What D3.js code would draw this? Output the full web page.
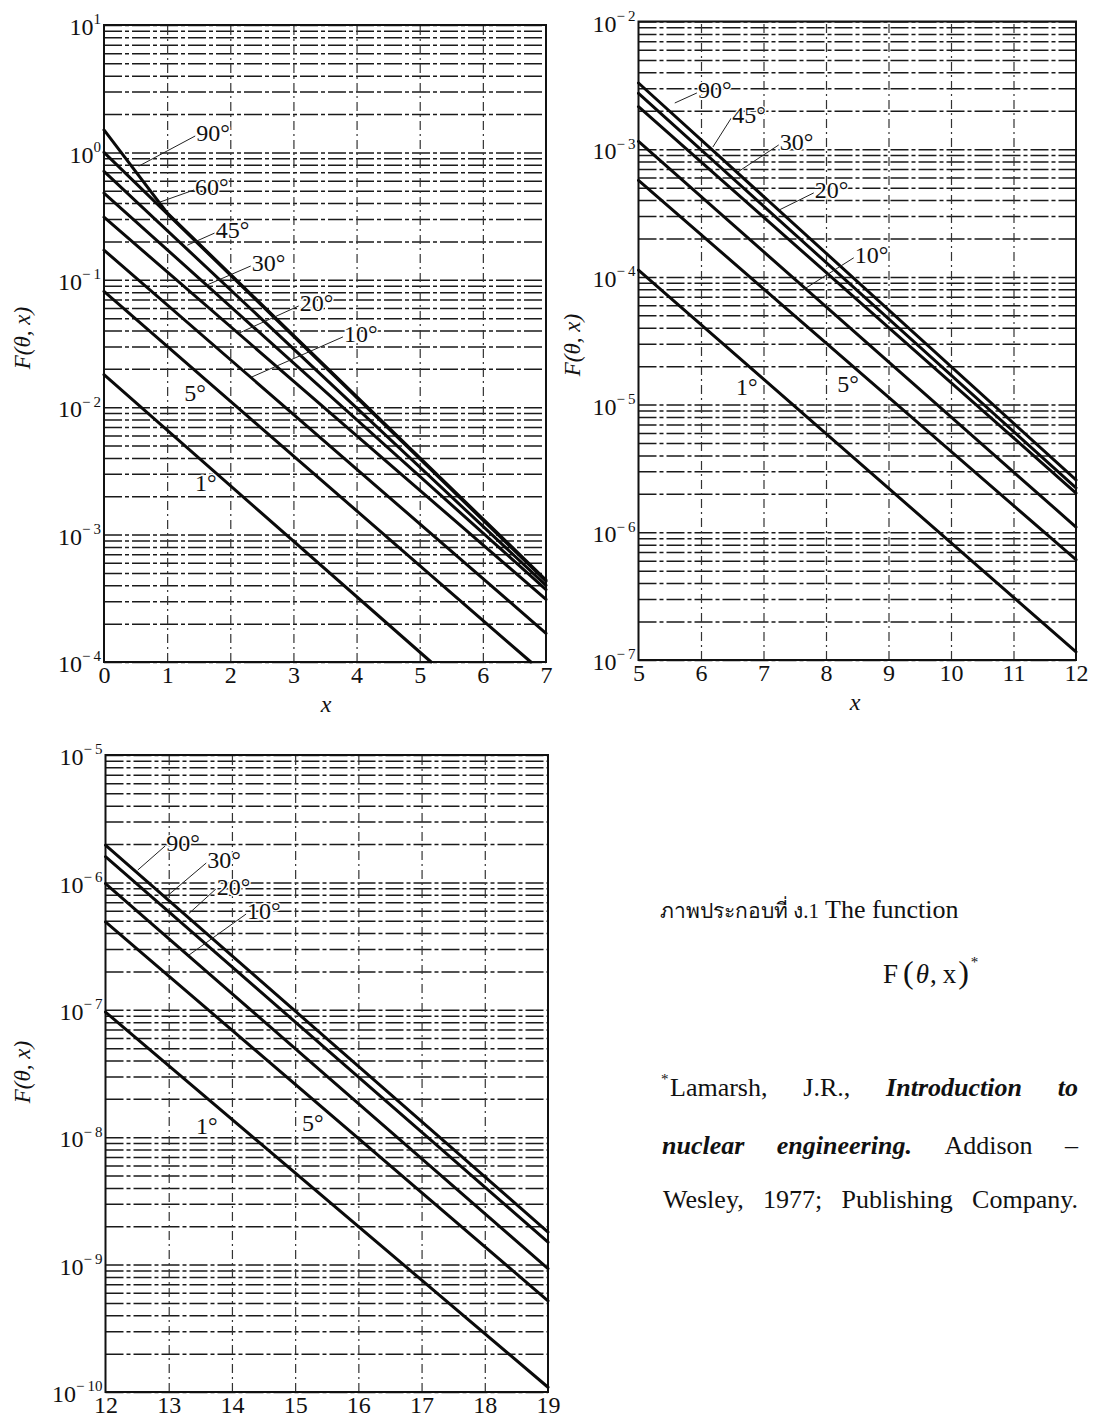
<!DOCTYPE html>
<html>
<head>
<meta charset="utf-8">
<script src="https://cdn.jsdelivr.net/npm/d3@7/dist/d3.min.js"></script>
<style>
    body { margin: 0; background: #fff; }
    svg { display: block; }
    text { font-family: "Liberation Serif", "Times New Roman", serif; fill: #111; }
</style>
</head>
<body>
<div id="figure-wrapper"></div>
<script>

// F(theta, x), three log panels

// panel 1, x = 0..7
var xTicks1 = [0, 1, 2, 3, 4, 5, 6, 7];
var decades1 = [1, 0, -1, -2, -3, -4];
var angles1 = ['90°', '60°', '45°', '30°', '20°', '10°', '5°', '1°'];
var curves1 = [
    [[0, 1.5], [1, 0.335], [7, 4.4e-4]],
    [[0, 1.0], [7, 4.3e-4]],
    [[0, 0.71], [7, 4.0e-4]],
    [[0, 0.48], [7, 3.7e-4]],
    [[0, 0.31], [7, 3.1e-4]],
    [[0, 0.171], [7, 1.68e-4]],
    [[0, 0.081], [6.76, 1e-4]],
    [[0, 0.018], [5.18, 1e-4]]
];
// label, label x, label y, leader end x, leader end y
var notes1 = [
    ['90°', 1.46, 1.42, 0.55, 0.78],
    ['60°', 1.44, 0.535, 0.84, 0.40],
    ['45°', 1.77, 0.246, 1.32, 0.187],
    ['30°', 2.34, 0.1355, 1.63, 0.091],
    ['20°', 3.10, 0.0658, 2.14, 0.0382],
    ['10°', 3.80, 0.0376, 2.34, 0.01726],
    ['5°', 1.27, 0.0131, null, null],
    ['1°', 1.44, 0.00254, null, null]
];

// panel 2, x = 5..12
var xTicks2 = [5, 6, 7, 8, 9, 10, 11, 12];
var decades2 = [-2, -3, -4, -5, -6, -7];
var angles2 = ['90°', '30°', '20°', '10°', '5°', '1°'];
var curves2 = [
    [[5, 3.3e-3], [12, 2.57e-6]],
    [[5, 2.74e-3], [12, 2.23e-6]],
    [[5, 2.15e-3], [12, 2.03e-6]],
    [[5, 1.15e-3], [12, 1.1e-6]],
    [[5, 5.7e-4], [12, 6.1e-7]],
    [[5, 1.13e-4], [12, 1.16e-7]]
];
var notes2 = [
    ['90°', 5.95, 2.91e-3, 5.58, 2.30e-3],
    ['45°', 6.50, 1.85e-3, 6.19, 1.04e-3],
    ['30°', 7.26, 1.14e-3, 6.59, 6.64e-4],
    ['20°', 7.82, 4.8e-4, 7.25, 3.34e-4],
    ['10°', 8.46, 1.49e-4, 7.63, 7.9e-5],
    ['5°', 8.18, 1.45e-5, null, null],
    ['1°', 6.56, 1.38e-5, null, null]
];

// panel 3, x = 12..19
var xTicks3 = [12, 13, 14, 15, 16, 17, 18, 19];
var decades3 = [-5, -6, -7, -8, -9, -10];
var angles3 = ['90°', '20°', '10°', '5°', '1°'];
var curves3 = [
    [[12, 1.96e-6], [19, 1.8e-9]],
    [[12, 1.59e-6], [19, 1.5e-9]],
    [[12, 9.8e-7], [19, 9.3e-10]],
    [[12, 4.9e-7], [19, 5.2e-10]],
    [[12, 9.6e-8], [19, 1.09e-10]]
];
var notes3 = [
    ['90°', 12.96, 2.04e-6, 12.51, 1.25e-6],
    ['30°', 13.61, 1.50e-6, 12.96, 7.7e-7],
    ['20°', 13.76, 9.35e-7, 13.32, 5.7e-7],
    ['10°', 14.24, 5.96e-7, 13.32, 2.69e-7],
    ['1°', 13.43, 1.24e-8, null, null],
    ['5°', 15.11, 1.31e-8, null, null]
];

// caption and reference text
var captionThai = 'ภาพประกอบที่ ง.1';
var captionEn = 'The function';
var refLines = [
    [['Lamarsh,'], ['J.R.,'], ['Introduction', 'bi'], ['to', 'bi']],
    [['nuclear', 'bi'], ['engineering.', 'bi'], ['Addison'], ['\u2013']],
    [['Wesley,'], ['1977;'], ['Publishing'], ['Company.']]
];

var figure = {
    svg: d3.select('#figure-wrapper').append('svg'),
    width: 1097,
    height: 1419,
    fontSize: 24,
    panels: [
        {left: 104, right: 546, top: 25, bottom: 662, titleX: 22, titleY: 338, xLabel: [326, 712]},
        {left: 638.5, right: 1076, top: 21.5, bottom: 660, titleX: 572, titleY: 345, xLabel: [855, 710]},
        {left: 105.5, right: 548, top: 755, bottom: 1392, titleX: 22, titleY: 1072, xLabel: null}
    ],

    init: function(){
        this.svg.attr('width', this.width).attr('height', this.height);
        this.svg.append('rect')
            .attr('width', this.width)
            .attr('height', this.height)
            .attr('fill', '#fff');

        this.drawPanel(this.panels[0], xTicks1, decades1, curves1, notes1);
        this.drawPanel(this.panels[1], xTicks2, decades2, curves2, notes2);
        this.drawPanel(this.panels[2], xTicks3, decades3, curves3, notes3);
        this.drawCaption();
    },

    drawPanel: function(p, xTicks, decades, curves, notes){
        var fs = this.fontSize;
        var x = d3.scaleLinear()
            .domain(d3.extent(xTicks))
            .range([p.left, p.right]);
        var y = d3.scaleLog()
            .domain([Math.pow(10, d3.min(decades)), Math.pow(10, d3.max(decades))])
            .range([p.bottom, p.top]);

        var g = this.svg.append('g');

        // horizontal grid at 1..9 x 10^k
        g.append('g')
            .attr('transform', 'translate(' + p.left + ',0)')
            .call(d3.axisLeft(y).tickSize(-(p.right - p.left)).tickFormat(''))
            .call(function(s){ s.select('.domain').remove(); })
            .selectAll('line')
                .attr('stroke', '#1a1a1a')
                .attr('stroke-width', 1.5)
                .attr('stroke-dasharray', '18,3,4,3');

        // vertical grid at the inner integers
        g.append('g')
            .attr('transform', 'translate(0,' + p.bottom + ')')
            .call(d3.axisBottom(x).tickValues(xTicks.slice(1, -1)).tickSize(-(p.bottom - p.top)).tickFormat(''))
            .call(function(s){ s.select('.domain').remove(); })
            .selectAll('line')
                .attr('stroke', '#333')
                .attr('stroke-width', 1.2)
                .attr('stroke-dasharray', '9,4,2,4');

        // frame
        g.append('rect')
            .attr('x', p.left)
            .attr('y', p.top)
            .attr('width', p.right - p.left)
            .attr('height', p.bottom - p.top)
            .attr('fill', 'none')
            .attr('stroke', '#111')
            .attr('stroke-width', 2);

        // x tick labels
        g.append('g')
            .attr('transform', 'translate(0,' + p.bottom + ')')
            .call(d3.axisBottom(x).tickValues(xTicks).tickSize(0).tickPadding(4).tickFormat(d3.format('d')))
            .call(function(s){ s.select('.domain').remove(); })
            .selectAll('text')
                .attr('font-family', '"Liberation Serif", serif')
                .attr('font-size', fs)
                .attr('fill', '#111');

        // y tick labels 10^k
        var yAxis = g.append('g')
            .attr('transform', 'translate(' + (p.left - 3) + ',0)')
            .call(d3.axisLeft(y).tickValues(decades.map(function(d){ return Math.pow(10, d); })).tickSize(0).tickPadding(0))
            .call(function(s){ s.select('.domain').remove(); });

        yAxis.selectAll('text')
            .attr('font-family', '"Liberation Serif", serif')
            .attr('font-size', fs)
            .attr('fill', '#111')
            .attr('dy', '0.4em')
            .each(function(d){
                var e = Math.round(Math.log10(d));
                var t = d3.select(this).text('');
                t.append('tspan').text('10');
                t.append('tspan')
                    .attr('font-size', 15)
                    .attr('dy', '-0.72em')
                    .text(e < 0 ? '\u2212\u2009' + (-e) : String(e));
            });

        // curves
        var line = d3.line()
            .x(function(d){ return x(d[0]); })
            .y(function(d){ return y(d[1]); });

        g.selectAll('path.curve')
            .data(curves)
            .enter()
            .append('path')
            .attr('class', 'curve')
            .attr('d', line)
            .attr('fill', 'none')
            .attr('stroke', '#0a0a0a')
            .attr('stroke-width', 3)
            .attr('stroke-linecap', 'round');

        // angle labels with leaders
        g.selectAll('line.leader')
            .data(notes.filter(function(d){ return d[3] !== null; }))
            .enter()
            .append('line')
            .attr('class', 'leader')
            .attr('x1', function(d){ return x(d[1]) - 1; })
            .attr('y1', function(d){ return y(d[2]) + 3; })
            .attr('x2', function(d){ return x(d[3]); })
            .attr('y2', function(d){ return y(d[4]); })
            .attr('stroke', '#222')
            .attr('stroke-width', 1);

        g.selectAll('text.angle')
            .data(notes)
            .enter()
            .append('text')
            .attr('class', 'angle')
            .attr('x', function(d){ return x(d[1]); })
            .attr('y', function(d){ return y(d[2]); })
            .attr('dy', '0.35em')
            .attr('font-size', fs)
            .attr('fill', '#111')
            .attr('stroke', '#fff')
            .attr('stroke-width', 3)
            .attr('paint-order', 'stroke')
            .text(function(d){ return d[0]; });

        // axis titles
        g.append('text')
            .attr('transform', 'translate(' + p.titleX + ',' + p.titleY + ') rotate(-90)')
            .attr('text-anchor', 'middle')
            .attr('dy', '0.35em')
            .attr('font-size', 23)
            .attr('font-style', 'italic')
            .text('F(θ, x)');

        if (p.xLabel) {
            g.append('text')
                .attr('x', p.xLabel[0])
                .attr('y', p.xLabel[1])
                .attr('text-anchor', 'middle')
                .attr('font-size', fs)
                .attr('font-style', 'italic')
                .text('x');
        }
    },

    drawCaption: function(){
        var c = this.svg.append('g').attr('font-size', 26);

        // one text element so the Thai and English parts sit on one line
        var cap = c.append('text')
            .attr('x', 660)
            .attr('y', 918);
        cap.append('tspan')
            .attr('font-size', 21)
            .text(captionThai);
        cap.append('tspan')
            .attr('dx', 6)
            .text(captionEn);

        var f = c.append('text')
            .attr('x', 883)
            .attr('y', 983)
            .attr('font-size', 27);
        f.append('tspan').text('F');
        f.append('tspan').attr('dx', 5).attr('font-size', 32).text('(');
        f.append('tspan').attr('dx', 2).attr('font-style', 'italic').text('θ');
        f.append('tspan').attr('dx', 1).text(',');
        f.append('tspan').attr('dx', 6).text('x');
        f.append('tspan').attr('dx', 2).attr('font-size', 32).text(')');
        f.append('tspan').attr('font-size', 15).attr('dy', -16).attr('dx', 2).text('*');

        // reference, every line spread from margin to margin
        var starts = [670, 662, 663];
        var baselines = [1096, 1154, 1208];
        var right = 1078;

        c.append('text')
            .attr('x', 661)
            .attr('y', 1084)
            .attr('font-size', 15)
            .text('*');

        refLines.forEach(function(row, i){
            var words = c.selectAll(null)
                .data(row)
                .enter()
                .append('text')
                .attr('y', baselines[i])
                .attr('font-weight', function(d){ return d[1] ? 'bold' : null; })
                .attr('font-style', function(d){ return d[1] ? 'italic' : null; })
                .text(function(d){ return d[0]; });

            var widths = words.nodes().map(function(n){ return n.getComputedTextLength(); });
            var gap = (right - starts[i] - d3.sum(widths)) / (row.length - 1);
            words.attr('x', function(d, j){
                return starts[i] + d3.sum(widths.slice(0, j)) + gap * j;
            });
        });
    }
};

figure.init();
</script>
</body>
</html>
